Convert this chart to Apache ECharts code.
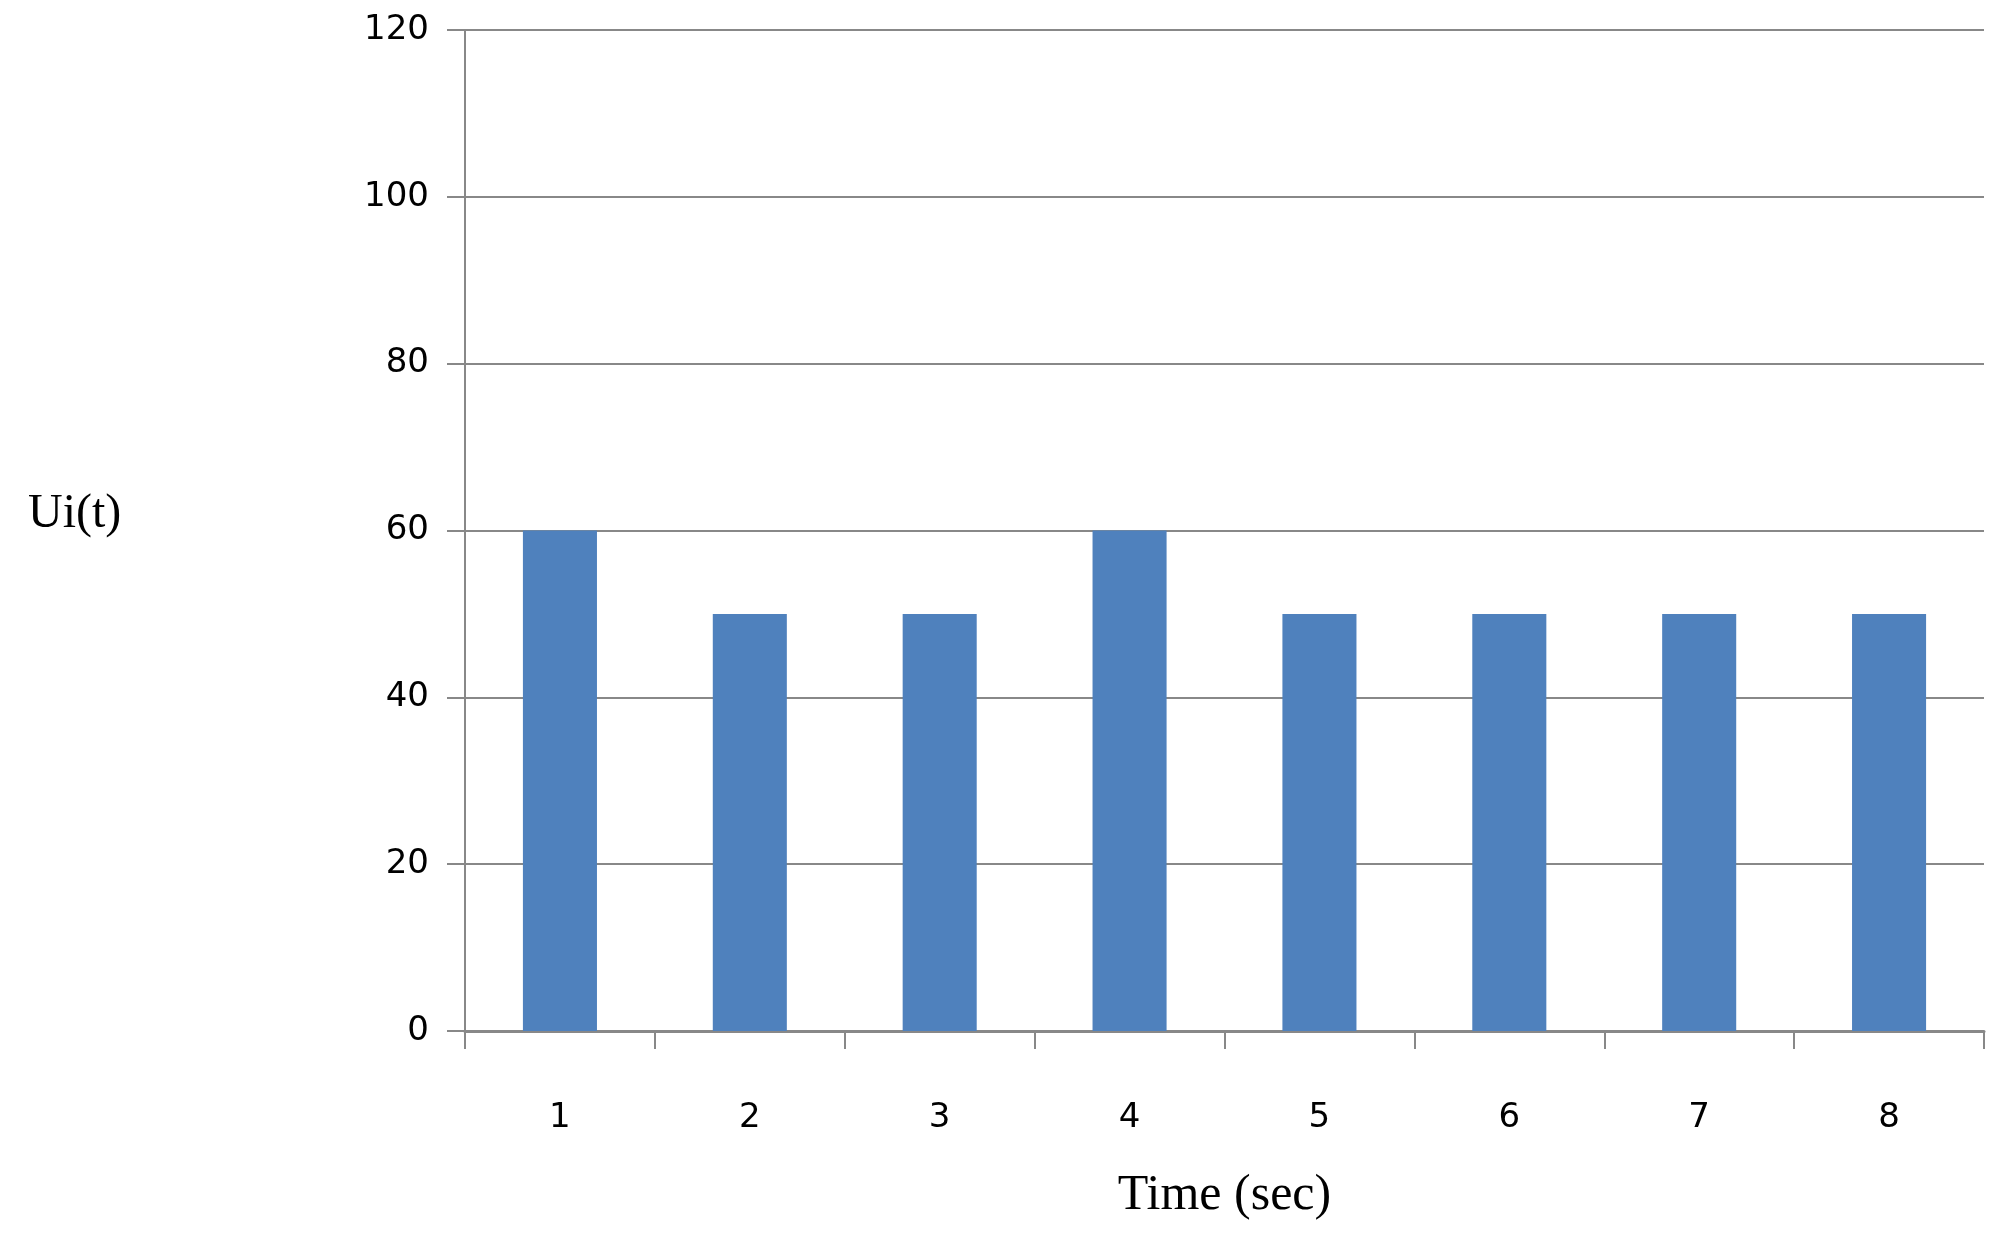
<!DOCTYPE html><html><head><meta charset="utf-8"><script src="https://cdn.jsdelivr.net/npm/echarts@6/dist/echarts.min.js"></script>
<style>html,body{margin:0;background:#fff}#c{width:2002px;height:1235px}</style></head><body><div id="c"></div><script>
const categories=['1','2','3','4','5','6','7','8'];
const values=[60,50,50,60,50,50,50,50];
const chart=echarts.init(document.getElementById('c'));
chart.setOption({
 animation:false,
 grid:{left:465,right:18,top:30,bottom:204},
 graphic:[{type:'text',left:28,top:490,style:{text:'Ui(t)',font:'48px "Liberation Serif"',fill:'#000'}}],
 xAxis:{type:'category',data:categories,name:'Time (sec)',nameLocation:'middle',nameGap:140,
  nameTextStyle:{fontFamily:'Liberation Serif',fontSize:50,color:'#000'},
  axisLine:{lineStyle:{color:'#888',width:3}},
  axisTick:{show:true,length:18,lineStyle:{color:'#888',width:2}},
  axisLabel:{margin:70,fontFamily:'DejaVu Sans',fontSize:34,color:'#000'}},
 yAxis:{type:'value',min:0,max:120,interval:20,
  axisLine:{show:true,lineStyle:{color:'#888',width:2}},
  axisTick:{show:true,length:18,inside:false,lineStyle:{color:'#888',width:2}},
  splitLine:{lineStyle:{color:'#888',width:2}},
  axisLabel:{margin:36,fontFamily:'DejaVu Sans',fontSize:34,color:'#000'}},
 series:[{type:'bar',data:values,barWidth:'39%',itemStyle:{color:'#4f81bd'}}]
});
</script></body></html>
